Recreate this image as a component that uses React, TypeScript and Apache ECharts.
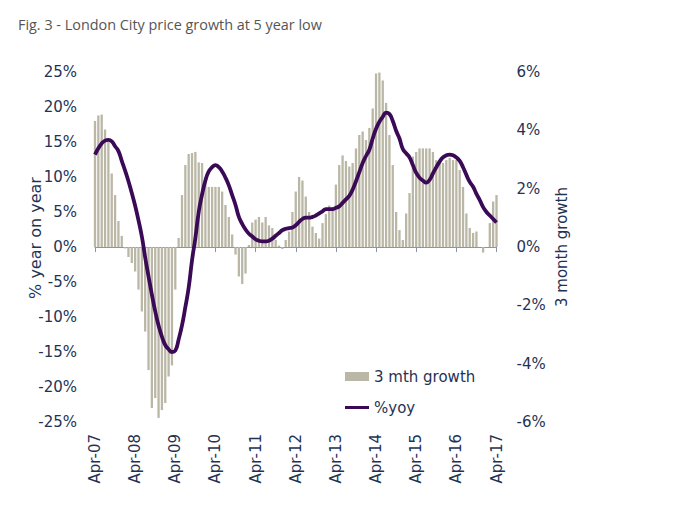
import React, { useEffect, useRef } from "react";
import * as echarts from "echarts";

const MONTH_NAMES = ["Jan", "Feb", "Mar", "Apr", "May", "Jun", "Jul", "Aug", "Sep", "Oct", "Nov", "Dec"];
const START_YEAR = 7; // 2007
const START_MONTH = 3; // April
const N_MONTHS = 121;

const categories: string[] = [];
for (let i = 0; i < N_MONTHS; i++) {
  const m = (START_MONTH + i) % 12;
  const y = START_YEAR + Math.floor((START_MONTH + i) / 12);
  categories.push(`${MONTH_NAMES[m]}-${String(y).padStart(2, "0")}`);
}

// 3 month growth, % (right axis)
const threeMonthGrowth = [
  4.32, 4.51, 4.54, 4.03, 3.6, 2.52, 1.78, 0.89, 0.38, -0.05,
  -0.34, -0.55, -0.84, -1.46, -2.21, -2.9, -4.22, -5.52, -5.18, -5.86,
  -5.59, -5.35, -4.44, -4.06, -1.46, 0.31, 1.78, 2.81, 3.19, 3.22,
  3.26, 2.9, 2.88, 2.4, 2.06, 2.06, 2.06, 2.06, 1.9, 1.44,
  1.03, 0.43, -0.26, -1.01, -1.27, -0.91, 0.07, 0.84, 0.94, 1.03,
  0.84, 1.03, 0.74, 0.65, 0.24, 0.05, -0.07, 0.24, 0.53, 1.2,
  1.9, 2.4, 2.28, 1.73, 1.2, 0.7, 0.48, 0.29, 0.82, 1.13,
  1.42, 1.37, 2.14, 2.81, 3.14, 2.95, 2.76, 2.88, 3.38, 3.84,
  3.96, 3.67, 4.08, 4.75, 5.95, 5.98, 5.71, 4.94, 3.84, 2.81,
  1.2, 0.58, 0.24, 1.15, 1.85, 3.1, 3.26, 3.38, 3.38, 3.38,
  3.38, 3.26, 2.98, 2.88, 2.88, 2.98, 3.05, 2.98, 2.98, 2.64,
  2.06, 1.15, 0.65, 0.48, 0.53, 0.0, -0.19, 0.0, 0.82, 1.56,
  1.78,
];

// % year on year (left axis)
const yoy = [
  13.2, 14.1, 14.8, 15.2, 15.3, 15.1, 14.4, 13.7, 12.3, 10.9,
  9.4, 7.7, 5.9, 3.8, 1.5, -1.5, -4.2, -6.8, -9.2, -11.2,
  -12.8, -14.0, -14.6, -15.0, -14.8, -13.2, -11.2, -8.6, -5.8, -1.9,
  1.3, 5.0, 7.5, 9.5, 10.8, 11.4, 11.7, 11.4, 10.8, 9.9,
  8.8, 7.4, 6.0, 4.3, 3.3, 2.5, 1.9, 1.5, 1.1, 0.9,
  0.8, 0.8, 0.9, 1.2, 1.6, 2.0, 2.4, 2.6, 2.7, 2.8,
  3.1, 3.6, 4.0, 4.2, 4.2, 4.3, 4.5, 4.8, 5.1, 5.4,
  5.4, 5.4, 5.6, 5.8, 6.3, 6.8, 7.3, 8.2, 9.4, 10.7,
  12.0, 13.0, 13.9, 15.5, 16.9, 17.9, 18.6, 19.2, 19.0, 18.0,
  16.6, 15.5, 14.0, 13.4, 12.8, 11.7, 10.6, 9.9, 9.5, 9.2,
  9.6, 10.5, 11.4, 12.2, 12.8, 13.1, 13.2, 13.1, 12.8, 12.3,
  11.4, 10.3, 9.3, 8.6, 7.6, 6.7, 5.7, 5.0, 4.5, 4.0,
  3.5,
];

const TITLE = "Fig. 3 - London City price growth at 5 year low";
const SERIES_BAR = "3 mth growth";
const SERIES_LINE = "%yoy";
const LEFT_NAME = "% year on year";
const RIGHT_NAME = "3 month growth";

const TEXT = "#1f3354";
const FONT = "DejaVu Sans";
const BAR_COLOR = "#bab7a6";
const LINE_COLOR = "#3a0a56";

export default function App() {
  const ref = useRef<HTMLDivElement>(null);
  useEffect(() => {
    if (!ref.current) return;
    const chart = echarts.init(ref.current, undefined, { renderer: "svg" });
    const legendText = { fontFamily: FONT, fontSize: 15, color: TEXT };
    chart.setOption({
      animation: false,
      backgroundColor: "#ffffff",
      title: {
        text: TITLE,
        left: 13,
        top: 12,
        textStyle: { fontFamily: "Open Sans", fontSize: 14.4, fontWeight: "normal", color: "#555555" },
      },
      legend: [
        {
          left: 340,
          top: 364,
          itemWidth: 24,
          itemHeight: 9,
          textStyle: legendText,
          data: [{ name: SERIES_BAR, icon: "rect" }],
        },
        {
          left: 340,
          top: 395,
          itemWidth: 24,
          itemHeight: 3,
          textStyle: legendText,
          data: [{ name: SERIES_LINE, icon: "rect" }],
        },
      ],
      grid: {
        left: 95,
        right: 179.5,
        top: 72,
        bottom: 90,
        containLabel: false,
        outerBoundsMode: "none",
      },
      xAxis: [
        {
          type: "category",
          data: categories,
          boundaryGap: false,
          position: "bottom",
          axisLine: { show: true, onZero: true, lineStyle: { color: "#8497b0", width: 1 } },
          axisTick: { show: true, interval: 11, length: 5, lineStyle: { color: "#8497b0" } },
          axisLabel: { show: false },
          splitLine: { show: false },
        },
        {
          type: "category",
          data: categories,
          boundaryGap: false,
          position: "bottom",
          axisLine: { show: false, onZero: false },
          axisTick: { show: false },
          axisLabel: {
            show: true,
            interval: 11,
            rotate: 90,
            margin: 12,
            fontFamily: FONT,
            fontSize: 15,
            color: TEXT,
          },
          splitLine: { show: false },
        },
      ],
      yAxis: [
        {
          type: "value",
          min: -25,
          max: 25,
          interval: 5,
          position: "left",
          name: LEFT_NAME,
          nameLocation: "middle",
          nameGap: 52,
          nameRotate: 90,
          nameMoveOverlap: false,
          nameTextStyle: { fontFamily: FONT, fontSize: 16, color: TEXT, padding: [0, 0, 0, 18] },
          axisLine: { show: false },
          axisTick: { show: false },
          splitLine: { show: false },
          axisLabel: { formatter: "{value}%", margin: 18, fontFamily: FONT, fontSize: 15, color: TEXT },
        },
        {
          type: "value",
          min: -6,
          max: 6,
          interval: 2,
          position: "right",
          name: RIGHT_NAME,
          nameLocation: "middle",
          nameGap: 58,
          nameRotate: 90,
          nameMoveOverlap: false,
          nameTextStyle: { fontFamily: FONT, fontSize: 15, color: TEXT },
          axisLine: { show: false },
          axisTick: { show: false },
          splitLine: { show: false },
          axisLabel: { formatter: "{value}%", margin: 20, fontFamily: FONT, fontSize: 15, color: TEXT },
        },
      ],
      series: [
        {
          name: SERIES_BAR,
          type: "bar",
          xAxisIndex: 0,
          yAxisIndex: 1,
          data: threeMonthGrowth,
          barWidth: 2.3,
          clip: false,
          itemStyle: { color: BAR_COLOR },
        },
        {
          name: SERIES_LINE,
          type: "line",
          xAxisIndex: 0,
          yAxisIndex: 0,
          data: yoy,
          smooth: true,
          showSymbol: false,
          symbol: "none",
          lineStyle: { color: LINE_COLOR, width: 3.8 },
          itemStyle: { color: LINE_COLOR },
          z: 3,
        },
      ],
    });
    return () => chart.dispose();
  }, []);
  return <div ref={ref} style={{ position: "absolute", left: 0, top: 0, width: 676, height: 512 }} />;
}
